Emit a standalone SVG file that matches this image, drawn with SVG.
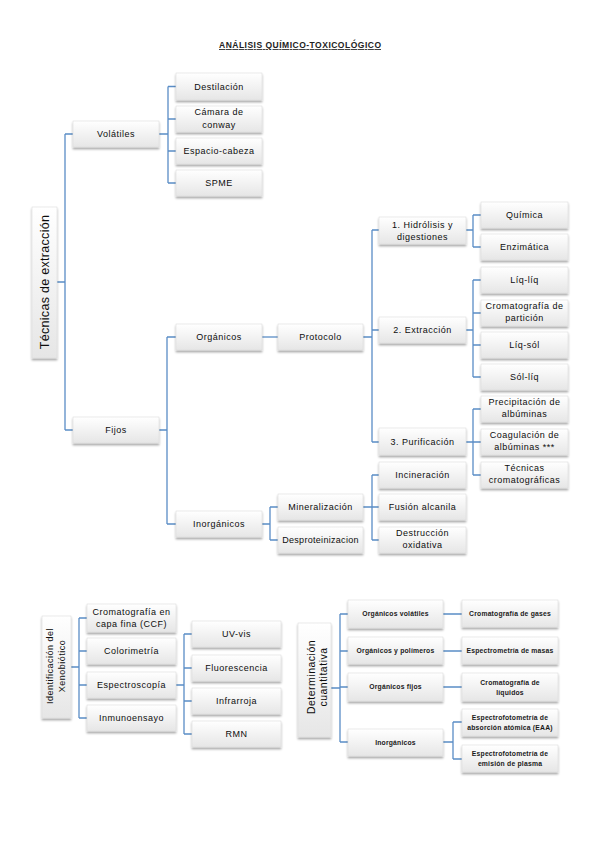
<svg xmlns="http://www.w3.org/2000/svg" width="599" height="848" viewBox="0 0 599 848">
<style>
.b{fill:url(#g);stroke:#dcdcdc;stroke-width:0.6;filter:url(#sh)}
.t{font-family:"Liberation Sans",Arial,sans-serif;font-size:9px;letter-spacing:0.5px;fill:#0d0d0d;text-anchor:middle}
.s{font-family:"Liberation Sans",Arial,sans-serif;font-size:6.8px;font-weight:bold;letter-spacing:0.2px;fill:#1a1a1a;text-anchor:middle}
.c{fill:none;stroke:#5a8dc6;stroke-width:1.3}
.title{font-family:"Liberation Sans",Arial,sans-serif;font-size:8.5px;font-weight:bold;fill:#222;text-anchor:middle;text-decoration:underline}
</style>
<defs>
<linearGradient id="g" x1="0" y1="0" x2="0" y2="1">
<stop offset="0" stop-color="#ffffff"/>
<stop offset="1" stop-color="#e6e6e6"/>
</linearGradient>
<filter id="sh" x="-10%" y="-20%" width="120%" height="160%">
<feDropShadow dx="0" dy="2" stdDeviation="1.1" flood-color="#000" flood-opacity="0.35"/>
</filter>
</defs>
<rect width="599" height="848" fill="#ffffff"/>
<text class="title" x="300" y="48" textLength="162">ANÁLISIS QUÍMICO-TOXICOLÓGICO</text>

<g id="connectors">
<path class="c" d="M57,282H65M65,134V430M65,134H73M65,430H73"/>
<path class="c" d="M159,134H168M168,86.5V183M168,86.5H176M168,119H176M168,151H176M168,183H176"/>
<path class="c" d="M159,430H167M167,337V524M167,337H176M167,524H176"/>
<path class="c" d="M262,337H278"/>
<path class="c" d="M363,337H372M372,230V442M372,230H379M372,330H379M372,442H379"/>
<path class="c" d="M466,230H473M473,215V247M473,215H481M473,247H481"/>
<path class="c" d="M466,330H473M473,280V377M473,280H481M473,313H481M473,345H481M473,377H481"/>
<path class="c" d="M466,442H473M473,409V475M473,409H481M473,442H481M473,475H481"/>
<path class="c" d="M262,524H270M270,507V540M270,507H278M270,540H278"/>
<path class="c" d="M363,507H372M372,475V540M372,475H379M372,507H379M372,540H379"/>
<path class="c" d="M71,667H79M79,618V718M79,618H87M79,651H87M79,685H87M79,718H87"/>
<path class="c" d="M176,685H184M184,634V734M184,634H192M184,668H192M184,701H192M184,734H192"/>
<path class="c" d="M331,688H340M340,614V742M340,614H348M340,651H348M340,687H348M340,742H348"/>
<path class="c" d="M443,614H462M443,651H462M443,687H462M443,742H453M453,722V759M453,722H462M453,759H462"/>
</g>

<g id="n-root"><rect class="b" x="32" y="207" width="25" height="151"/><text class="t" style="font-size:12.5px;letter-spacing:0.3px" transform="translate(48.5,282) rotate(-90)">Técnicas de extracción</text></g>
<g id="n-volatiles"><rect class="b" x="73" y="121" width="86" height="26"/><text class="t" x="116" y="137.2">Volátiles</text></g>
<g id="n-destilacion"><rect class="b" x="176" y="73" width="86" height="27"/><text class="t" x="219" y="89.7">Destilación</text></g>
<g id="n-camara"><rect class="b" x="176" y="106" width="86" height="26"/><text class="t" x="219" y="115">Cámara de</text><text class="t" x="219" y="128">conway</text></g>
<g id="n-espacio"><rect class="b" x="176" y="138" width="86" height="26"/><text class="t" x="219" y="154.2">Espacio-cabeza</text></g>
<g id="n-spme"><rect class="b" x="176" y="170" width="86" height="26"/><text class="t" x="219" y="186.2">SPME</text></g>
<g id="n-fijos"><rect class="b" x="73" y="417" width="86" height="26"/><text class="t" x="116" y="433.2">Fijos</text></g>
<g id="n-organicos"><rect class="b" x="176" y="324" width="86" height="26"/><text class="t" x="219" y="340.2">Orgánicos</text></g>
<g id="n-inorganicos"><rect class="b" x="176" y="511" width="86" height="26"/><text class="t" x="219" y="527.2">Inorgánicos</text></g>
<g id="n-protocolo"><rect class="b" x="278" y="324" width="85" height="26"/><text class="t" x="320.5" y="340.2">Protocolo</text></g>
<g id="n-hidrolisis"><rect class="b" x="379" y="217" width="87" height="27"/><text class="t" x="422.5" y="227.5">1. Hidrólisis y</text><text class="t" x="422.5" y="240">digestiones</text></g>
<g id="n-extraccion"><rect class="b" x="379" y="317" width="87" height="26"/><text class="t" x="422.5" y="333.2">2. Extracción</text></g>
<g id="n-purificacion"><rect class="b" x="379" y="428" width="87" height="27"/><text class="t" x="422.5" y="444.7">3. Purificación</text></g>
<g id="n-quimica"><rect class="b" x="481" y="202" width="87" height="26"/><text class="t" x="524.5" y="218.2">Química</text></g>
<g id="n-enzimatica"><rect class="b" x="481" y="234" width="87" height="26"/><text class="t" x="524.5" y="250.2">Enzimática</text></g>
<g id="n-liqliq"><rect class="b" x="481" y="267" width="87" height="26"/><text class="t" x="524.5" y="283.2">Líq-líq</text></g>
<g id="n-cromparticion"><rect class="b" x="481" y="300" width="87" height="26"/><text class="t" x="524.5" y="309">Cromatografía de</text><text class="t" x="524.5" y="321">partición</text></g>
<g id="n-liqsol"><rect class="b" x="481" y="332" width="87" height="26"/><text class="t" x="524.5" y="348.2">Líq-sól</text></g>
<g id="n-solliq"><rect class="b" x="481" y="364" width="87" height="26"/><text class="t" x="524.5" y="380.2">Sól-líq</text></g>
<g id="n-precipitacion"><rect class="b" x="481" y="396" width="87" height="26"/><text class="t" x="524.5" y="405">Precipitación de</text><text class="t" x="524.5" y="417">albúminas</text></g>
<g id="n-coagulacion"><rect class="b" x="481" y="429" width="87" height="26"/><text class="t" x="524.5" y="438">Coagulación de</text><text class="t" x="524.5" y="450">albúminas ***</text></g>
<g id="n-tecnicas"><rect class="b" x="481" y="462" width="87" height="26"/><text class="t" x="524.5" y="471">Técnicas</text><text class="t" x="524.5" y="483">cromatográficas</text></g>
<g id="n-mineralizacion"><rect class="b" x="278" y="494" width="85" height="26"/><text class="t" x="320.5" y="510.2">Mineralización</text></g>
<g id="n-desproteinizacion"><rect class="b" x="278" y="527" width="85" height="26"/><text class="t" x="320.5" y="543.2" style="letter-spacing:0.3px">Desproteinizacion</text></g>
<g id="n-incineracion"><rect class="b" x="379" y="462" width="87" height="26"/><text class="t" x="422.5" y="478.2">Incineración</text></g>
<g id="n-fusion"><rect class="b" x="379" y="494" width="87" height="26"/><text class="t" x="422.5" y="510.2">Fusión alcanila</text></g>
<g id="n-destruccion"><rect class="b" x="379" y="527" width="87" height="26"/><text class="t" x="422.5" y="536">Destrucción</text><text class="t" x="422.5" y="548">oxidativa</text></g>

<g id="n-identificacion"><rect class="b" x="42" y="616" width="29" height="102"/><text class="t" transform="translate(53.2,666) rotate(-90)">Identificación del</text><text class="t" transform="translate(65.2,666) rotate(-90)">Xenobiótico</text></g>
<g id="n-ccf"><rect class="b" x="87" y="604" width="89" height="28"/><text class="t" x="131.5" y="615">Cromatografía en</text><text class="t" x="131.5" y="627">capa fina (CCF)</text></g>
<g id="n-colorimetria"><rect class="b" x="87" y="638" width="89" height="26"/><text class="t" x="131.5" y="654.2">Colorimetría</text></g>
<g id="n-espectroscopia"><rect class="b" x="87" y="672" width="89" height="26"/><text class="t" x="131.5" y="688.2">Espectroscopía</text></g>
<g id="n-inmunoensayo"><rect class="b" x="87" y="705" width="89" height="26"/><text class="t" x="131.5" y="721.2">Inmunoensayo</text></g>
<g id="n-uvvis"><rect class="b" x="192" y="621" width="89" height="26"/><text class="t" x="236.5" y="637.2">UV-vis</text></g>
<g id="n-fluorescencia"><rect class="b" x="192" y="655" width="89" height="26"/><text class="t" x="236.5" y="671.2">Fluorescencia</text></g>
<g id="n-infrarroja"><rect class="b" x="192" y="688" width="89" height="26"/><text class="t" x="236.5" y="704.2">Infrarroja</text></g>
<g id="n-rmn"><rect class="b" x="192" y="721" width="89" height="26"/><text class="t" x="236.5" y="737.2">RMN</text></g>

<g id="n-determinacion"><rect class="b" x="298" y="623" width="33" height="114"/><text class="t" style="font-size:10.5px" transform="translate(314.5,677) rotate(-90)">Determinación</text><text class="t" style="font-size:10.5px" transform="translate(326.5,677) rotate(-90)">cuantitativa</text></g>
<g id="n-orgvol"><rect class="b" x="348" y="600" width="95" height="28"/><text class="s" x="395.5" y="616.3">Orgánicos volátiles</text></g>
<g id="n-orgpol"><rect class="b" x="348" y="637" width="95" height="27"/><text class="s" x="395.5" y="652.8">Orgánicos y polímeros</text></g>
<g id="n-orgfijos"><rect class="b" x="348" y="673" width="95" height="28"/><text class="s" x="395.5" y="689.3">Orgánicos fijos</text></g>
<g id="n-inorg2"><rect class="b" x="348" y="729" width="95" height="27"/><text class="s" x="395.5" y="744.8">Inorgánicos</text></g>
<g id="n-cromgases"><rect class="b" x="462" y="600" width="96" height="27"/><text class="s" x="510" y="615.8">Cromatografía de gases</text></g>
<g id="n-espmasas"><rect class="b" x="462" y="637" width="96" height="27"/><text class="s" x="510" y="652.8">Espectrometría de masas</text></g>
<g id="n-cromliq"><rect class="b" x="462" y="673" width="96" height="28"/><text class="s" x="510" y="684.5">Cromatografía de</text><text class="s" x="510" y="694.5">líquidos</text></g>
<g id="n-eaa"><rect class="b" x="462" y="709" width="96" height="27"/><text class="s" x="510" y="720">Espectrofotometría de</text><text class="s" x="510" y="730">absorción atómica (EAA)</text></g>
<g id="n-plasma"><rect class="b" x="462" y="745" width="96" height="27"/><text class="s" x="510" y="756">Espectrofotometría de</text><text class="s" x="510" y="766">emisión de plasma</text></g>
</svg>
